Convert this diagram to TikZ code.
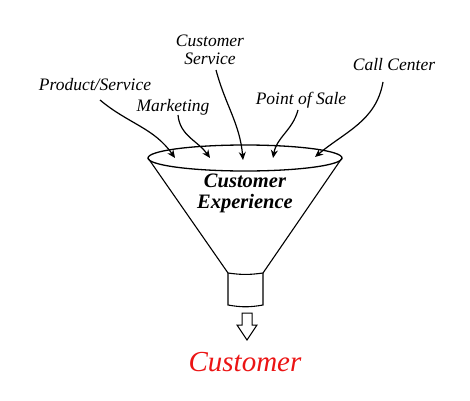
\documentclass[tikz,border=0pt]{standalone}
\usepackage{fontspec}
\setmainfont{Liberation Serif}
\usetikzlibrary{arrows.meta}
\definecolor{custred}{RGB}{235,20,20}
\begin{document}
\begin{tikzpicture}[x=1pt,y=1pt,
    source/.style ={font=\fontsize{17.5}{18}\selectfont\itshape, align=center, inner sep=0pt},
    feed/.style ={line width=1.2pt, -{Stealth[length=8pt,width=7pt,inset=2.5pt]}}]
   \useasboundingbox (0,0) rectangle (470,400);
   % funnel
   \draw[line width=1.3pt] (245,242) ellipse [x radius=97pt, y radius=13pt];
   \draw[line width=1.1pt] (148,242) -- (228,127) (342,242) -- (263,127);
   \draw[line width=1.1pt] (228,127) to [bend right = 8] (263,127);
   \draw[line width=1.1pt] (228,127) -- (228,95) to [bend right = 10] (263,95) -- (263,127);
   \node[font=\fontsize{20.5}{21}\selectfont\bfseries\itshape, align=center] (cx) at (245,207) {Customer\\Experience};
   % sources
   \node[source] (cs) at (210,350) {Customer\\Service};
   \node[source] (cc) at (394,335) {Call Center};
   \node[source] (ps) at (95,315) {Product/Service};
   \node[source] (mk) at (173,293) {Marketing};
   \node[source] (pos) at (301,300) {Point of Sale};
   \coordinate (ps0) at (100,300);  \coordinate (ps1) at (175,242);
   \coordinate (mk0) at (178,285);  \coordinate (mk1) at (210,242);
   \coordinate (cs0) at (216,330);  \coordinate (cs1) at (243,240);
   \coordinate (pos0) at (298,290); \coordinate (pos1) at (273,242);
   \coordinate (cc0) at (383,318);  \coordinate (cc1) at (315,243);
   \draw[feed] (ps0) to [out=-40, in=125] (ps1);
   \draw[feed] (mk0) to [out=-85, in=125] (mk1);
   \draw[feed] (cs0) to [out=-75, in=95] (cs1);
   \draw[feed] (pos0) to [out=-105, in=80] (pos1);
   \draw[feed] (cc0) to [out=-100, in=40] (cc1);
   % output
   \draw[line width=1pt] (242,87) -- (252,87) -- (252,75) -- (257,75) -- (247,60) -- (237,75) -- (242,75) -- cycle;
   \node[font=\fontsize{29}{30}\selectfont\itshape, text=custred] (cust) at (245,38) {Customer};
 \end{tikzpicture}
\end{document}
